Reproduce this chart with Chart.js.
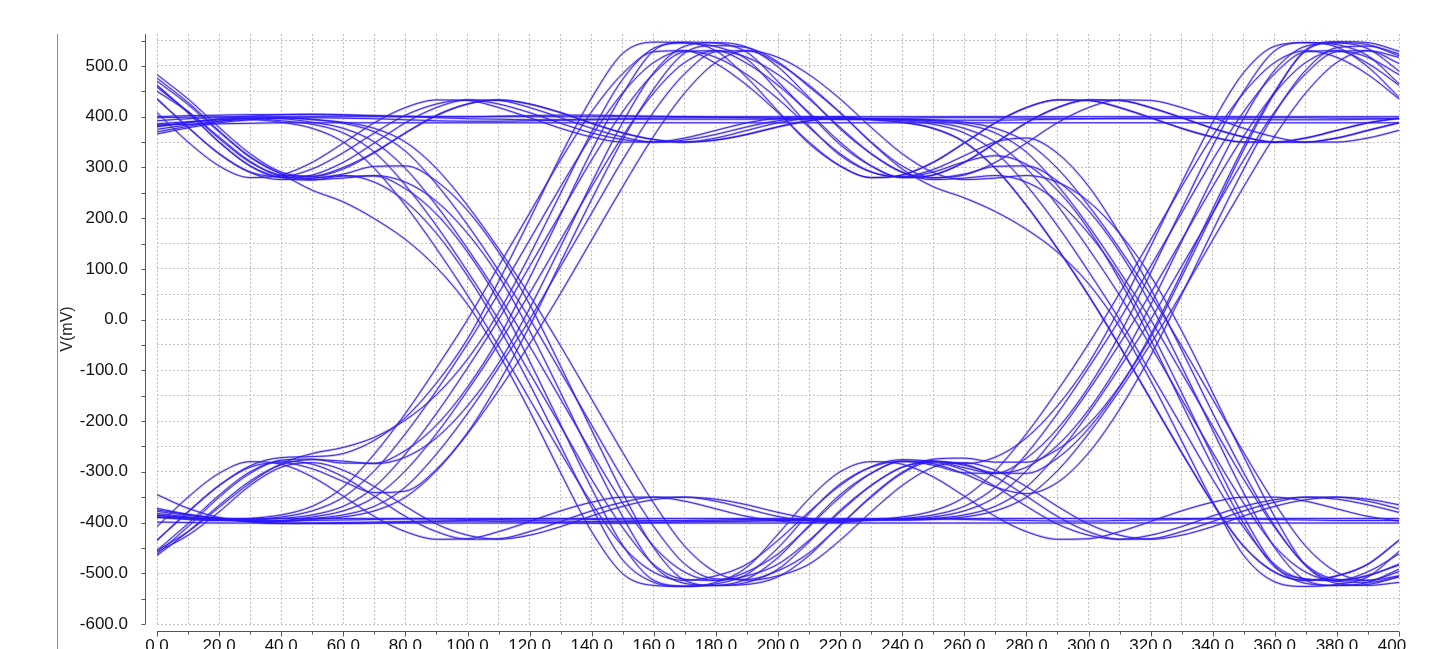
<!DOCTYPE html>
<html><head><meta charset="utf-8">
<script src="https://cdn.jsdelivr.net/npm/chart.js@4.4.1/dist/chart.umd.min.js"></script>
<style>html,body{margin:0;padding:0;background:#fff;overflow:hidden}canvas{display:block}</style>
</head><body>
<canvas id="c" width="1435" height="649"></canvas>
<script>
const timePs = [0,10,20,30,40,50,60,70,80,90,100,110,120,130,140,150,160,170,180,190,200,210,220,230,240,250,260,270,280,290,300,310,320,330,340,350,360,370,380,390,400];
const xTickLabels = ['0.0','20.0','40.0','60.0','80.0','100.0','120.0','140.0','160.0','180.0','200.0','220.0','240.0','260.0','280.0','300.0','320.0','340.0','360.0','380.0','400.0'];
const yTickLabels = ['-600.0','-500.0','-400.0','-300.0','-200.0','-100.0','0.0','100.0','200.0','300.0','400.0','500.0'];
const yAxisTitle = 'V(mV)';

// traces starting high
const traceU1 = [462,408,350,303,280,275,283,283,258,208,133,37,-82,-207,-333,-445,-514,-525,-524,-511,-469,-406,-345,-303,-279,-279,-292,-303,-291,-248,-178,-85,29,154,280,397,492,539,545,534,490];
const traceU2 = [476,428,372,321,287,255,232,199,158,103,30,-67,-180,-302,-418,-501,-524,-526,-518,-488,-423,-353,-300,-280,-285,-310,-348,-388,-418,-433,-432,-418,-398,-377,-360,-350,-350,-358,-373,-388,-397];
const traceU3 = [483,435,379,327,291,282,297,329,368,403,425,433,425,408,387,368,355,350,354,365,380,392,398,395,395,392,385,368,330,265,185,95,0,-105,-210,-315,-410,-483,-512,-514,-497];
const traceU4 = [435,379,327,291,282,297,329,368,403,425,433,425,408,387,368,355,350,354,365,380,392,398,396,397,397,398,398,398,397,397,396,396,396,397,397,398,398,398,397,397,396];
const traceU5 = [370,381,391,397,398,395,387,370,332,267,187,97,2,-103,-208,-313,-408,-482,-511,-512,-495,-460,-406,-348,-301,-275,-273,-281,-281,-256,-206,-131,-35,84,209,335,447,532,548,546,529];
const traceU6 = [386,390,394,397,396,389,377,350,298,225,140,48,-52,-157,-262,-362,-447,-498,-514,-505,-482,-435,-379,-327,-291,-282,-297,-329,-368,-403,-425,-433,-425,-408,-387,-368,-355,-350,-354,-365,-380];
const traceU7 = [380,388,396,401,404,405,404,402,400,398,396,395,394,394,395,396,397,398,398,398,397,396,395,395,392,385,368,330,265,185,95,0,-105,-210,-315,-410,-483,-512,-514,-497,-462];
const traceU8 = [398,399,400,400,400,400,400,400,400,400,400,400,400,400,400,400,400,400,400,400,400,400,400,400,400,400,400,400,400,400,400,400,400,400,400,400,400,400,400,400,400];
const traceU9 = [435,379,327,290,276,279,284,271,233,170,86,-14,-127,-249,-370,-474,-518,-526,-521,-502,-450,-382,-324,-291,-279,-287,-302,-303,-273,-215,-133,-30,92,218,342,450,530,546,542,520,465];
const traceU10 = [462,408,350,303,280,285,310,348,388,418,433,432,418,398,377,360,350,350,358,373,388,397,400,394,389,377,350,298,225,140,48,-52,-157,-262,-362,-447,-498,-514,-505,-482,-435];
const traceU11 = [375,384,391,394,389,377,350,298,225,140,48,-52,-157,-262,-362,-447,-498,-514,-505,-482,-435,-379,-327,-290,-276,-279,-284,-271,-233,-170,-86,22,144,270,389,487,539,546,537,498,438];
const traceU12 = [400,402,403,404,404,404,403,402,401,400,400,401,402,403,403,402,401,400,399,398,397,396,396,395,395,394,389,377,350,298,225,140,48,-52,-157,-262,-362,-447,-498,-514,-505];
const traceU13 = [470,424,370,320,288,279,287,302,303,273,215,133,30,-92,-218,-342,-450,-514,-524,-522,-507,-465,-405,-350,-303,-280,-285,-310,-348,-388,-418,-433,-432,-418,-398,-377,-360,-350,-350,-358,-373];
const traceU14 = [408,350,303,280,285,310,348,388,418,433,432,418,398,377,360,350,350,358,373,388,397,400,395,395,394,389,377,350,298,225,140,48,-52,-157,-262,-362,-447,-498,-514,-505,-482];
const traceU15 = [450,410,360,312,284,283,300,330,368,402,425,433,425,408,387,368,355,350,354,365,380,392,398,396,394,393,393,393,394,395,396,397,397,397,396,395,394,394,394,395,396];
const traceU16 = [384,385,386,387,388,388,388,388,388,388,388,388,388,388,388,388,388,388,388,388,388,388,388,388,388,388,388,388,388,388,388,388,388,388,388,388,388,388,388,388,388];
const traceU17 = [392,396,398,397,392,385,368,330,265,185,95,0,-105,-210,-315,-410,-483,-512,-514,-497,-462,-408,-350,-303,-280,-284,-304,-330,-343,-321,-263,-177,-71,49,175,297,407,492,536,539,524];
const traceU18 = [458,410,357,310,284,276,279,284,271,233,170,86,-22,-144,-270,-389,-485,-520,-524,-518,-492,-438,-376,-327,-291,-279,-287,-302,-303,-273,-215,-133,-30,92,218,342,450,530,546,542,520];
const traceU19 = [382,389,394,397,398,394,389,377,350,298,225,140,48,-52,-157,-262,-362,-447,-498,-514,-505,-482,-435,-379,-327,-291,-282,-297,-329,-368,-403,-425,-433,-425,-408,-387,-368,-355,-350,-354,-365];
const traceU20 = [366,378,388,394,397,398,397,396,394,392,391,391,392,393,394,395,395,395,395,395,395,395,395,394,389,377,350,298,225,140,48,-52,-157,-262,-362,-447,-498,-514,-505,-482,-435];

// traces starting low
const traceL1 = [-465,-418,-366,-318,-286,-276,-279,-284,-271,-233,-170,-86,22,144,270,389,487,539,546,537,498,438,376,327,291,279,287,302,303,273,215,133,30,-92,-218,-342,-450,-514,-524,-522,-507];
const traceL2 = [-462,-408,-350,-303,-277,-275,-283,-283,-258,-208,-133,-37,82,207,333,445,530,547,545,527,469,406,345,303,280,285,310,348,388,418,433,432,418,398,377,360,350,350,358,373,388];
const traceL3 = [-455,-402,-346,-300,-279,-285,-310,-348,-388,-418,-433,-432,-418,-398,-377,-360,-350,-350,-358,-373,-388,-397,-400,-395,-394,-389,-377,-350,-298,-225,-140,-48,52,157,262,362,447,507,530,517,483];
const traceL4 = [-408,-350,-303,-280,-285,-310,-348,-388,-418,-433,-432,-418,-398,-377,-360,-350,-350,-358,-373,-388,-397,-400,-395,-394,-393,-393,-394,-395,-396,-397,-397,-396,-395,-394,-393,-393,-394,-395,-396,-396,-396];
const traceL5 = [-382,-389,-394,-397,-398,-394,-389,-377,-350,-298,-225,-140,-48,52,157,262,362,447,507,530,517,483,435,379,327,290,276,279,284,271,233,170,86,-22,-144,-270,-389,-485,-520,-524,-518];
const traceL6 = [-388,-393,-396,-395,-392,-385,-368,-330,-265,-185,-95,0,105,210,315,410,485,528,530,505,462,408,350,303,280,285,310,348,388,418,433,432,418,398,377,360,350,350,358,373,388];
const traceL7 = [-372,-384,-393,-398,-401,-402,-402,-401,-400,-398,-396,-394,-393,-393,-394,-395,-396,-397,-397,-397,-396,-395,-395,-395,-395,-392,-385,-368,-330,-265,-185,-95,0,105,210,315,410,485,528,530,505];
const traceL8 = [-390,-391,-392,-392,-392,-392,-392,-392,-392,-392,-392,-392,-392,-392,-392,-392,-392,-392,-392,-392,-392,-392,-392,-392,-392,-392,-392,-392,-392,-392,-392,-392,-392,-392,-392,-392,-392,-392,-392,-392,-392];
const traceL9 = [-435,-379,-327,-291,-282,-294,-319,-341,-338,-295,-223,-125,-13,113,237,355,455,526,540,536,508,459,408,349,297,262,240,213,178,133,71,-14,-120,-239,-359,-465,-517,-526,-522,-507,-457];
const traceL10 = [-458,-425,-379,-327,-291,-282,-297,-329,-368,-403,-425,-433,-425,-408,-387,-368,-355,-350,-354,-365,-380,-392,-398,-395,-392,-385,-368,-330,-265,-185,-95,0,105,210,315,410,485,528,530,505,462];
const traceL11 = [-386,-390,-394,-397,-396,-389,-377,-350,-298,-225,-140,-48,52,157,262,362,447,507,530,517,483,435,379,327,290,276,279,284,271,233,170,86,-22,-144,-270,-389,-485,-520,-524,-518,-492];
const traceL12 = [-385,-391,-395,-397,-397,-396,-395,-394,-393,-393,-394,-395,-396,-397,-398,-398,-397,-396,-395,-394,-394,-394,-395,-394,-389,-377,-350,-298,-225,-140,-48,52,157,262,362,447,507,530,517,483,435];
const traceL13 = [-435,-379,-327,-288,-272,-270,-264,-238,-193,-125,-38,75,197,323,437,525,547,546,530,477,411,347,303,280,285,310,348,388,418,433,432,418,398,377,360,350,350,358,373,388,397];
const traceL14 = [-378,-386,-392,-396,-397,-392,-385,-368,-330,-265,-185,-95,0,105,210,315,410,485,528,530,505,462,408,350,303,280,285,310,348,388,418,433,432,418,398,377,360,350,350,358,373];
const traceL15 = [-399,-400,-401,-401,-401,-401,-401,-401,-401,-401,-401,-401,-401,-401,-401,-401,-401,-401,-401,-401,-401,-401,-401,-401,-401,-401,-401,-401,-401,-401,-401,-401,-401,-401,-401,-401,-401,-401,-401,-401,-401];
const traceL16 = [-375,-384,-391,-394,-389,-377,-350,-298,-225,-140,-48,52,157,262,362,447,507,530,517,483,435,379,327,291,282,296,323,350,358,328,263,170,61,-60,-184,-302,-407,-485,-516,-518,-507];
const traceL17 = [-390,-394,-396,-392,-385,-368,-330,-265,-185,-95,0,105,210,315,410,485,528,530,505,462,408,350,303,280,285,310,348,388,418,433,432,418,398,377,360,350,350,358,373,388,397];
const traceL18 = [-455,-418,-370,-322,-284,-264,-252,-232,-198,-148,-78,14,127,249,370,474,535,545,538,513,450,382,324,291,281,291,311,323,306,255,178,78,-39,-165,-289,-402,-488,-511,-514,-504,-484];
const traceL19 = [-345,-372,-390,-399,-402,-401,-400,-399,-398,-397,-397,-398,-399,-400,-401,-401,-400,-399,-398,-397,-396,-396,-395,-395,-395,-394,-389,-377,-350,-298,-225,-140,-48,52,157,262,362,447,507,530,517];

const traces = [traceU1,traceU2,traceU3,traceU4,traceU5,traceU6,traceU7,traceU8,traceU9,traceU10,traceU11,traceU12,traceU13,traceU14,traceU15,traceU16,traceU17,traceU18,traceU19,traceU20,
  traceL1,traceL2,traceL3,traceL4,traceL5,traceL6,traceL7,traceL8,traceL9,traceL10,traceL11,traceL12,traceL13,traceL14,traceL15,traceL16,traceL17,traceL18,traceL19];

const toPoints = tr => timePs.map((t, i) => ({x: t, y: tr[i]}));
const coreSets = traces.map(tr => ({data: toPoints(tr), borderColor: 'rgb(40,20,250)', borderWidth: 0.9, order: 0}));
const haloSets = traces.map(tr => ({data: toPoints(tr), borderColor: 'rgba(140,130,205,0.55)', borderWidth: 2.3, order: 1}));

const FONT = '"Liberation Sans", Arial, Helvetica, sans-serif';

const axesPlugin = {
  id: 'axesDecor',
  afterDraw(chart) {
    const {ctx, chartArea: a, scales: {x, y}} = chart;
    ctx.save();
    ctx.strokeStyle = '#8c8c8c'; ctx.lineWidth = 1;
    ctx.beginPath(); ctx.moveTo(57.5, a.top); ctx.lineTo(57.5, chart.height); ctx.stroke();
    ctx.strokeStyle = '#555';
    const ax = Math.round(a.left - 12) + 0.5;
    ctx.beginPath();
    ctx.moveTo(ax, a.top); ctx.lineTo(ax, a.bottom);
    y.ticks.forEach(t => {
      const py = Math.round(y.getPixelForValue(t.value)) + 0.5;
      ctx.moveTo(ax - 4, py); ctx.lineTo(ax, py);
    });
    ctx.stroke();
    const ay = Math.round(a.bottom + 7) + 0.5;
    ctx.beginPath();
    ctx.moveTo(a.left, ay); ctx.lineTo(a.right, ay);
    x.ticks.forEach(t => {
      const px = Math.round(x.getPixelForValue(t.value)) + 0.5;
      const len = (Math.round(t.value) % 20 === 0) ? 5 : 3;
      ctx.moveTo(px, ay); ctx.lineTo(px, ay + len);
    });
    ctx.stroke();
    ctx.fillStyle = '#fff';
    ctx.fillRect(1408, ay + 6, chart.width - 1408, chart.height - ay);
    ctx.restore();
  }
};

new Chart(document.getElementById('c'), {
  type: 'line',
  data: {datasets: [...coreSets, ...haloSets]},
  options: {
    responsive: false,
    animation: false,
    devicePixelRatio: 1,
    layout: {padding: {left: 50, top: 34, right: 36, bottom: 0}},
    plugins: {legend: {display: false}, tooltip: {enabled: false}},
    elements: {point: {radius: 0}, line: {cubicInterpolationMode: 'monotone', borderCapStyle: 'round', borderJoinStyle: 'round'}},
    scales: {
      x: {
        type: 'linear', min: 0, max: 400,
        afterFit(s) { s.height = 25; },
        border: {display: false, dash: [2, 2]},
        grid: {color: '#c2c2c2', lineWidth: 1, drawTicks: true, tickLength: 12, tickColor: 'rgba(0,0,0,0)'},
        ticks: {
          stepSize: 10, autoSkip: false, maxRotation: 0, includeBounds: false, padding: 0,
          color: '#111', font: {family: FONT, size: 17},
          callback: v => { const k = Math.round(v); return (k % 20 === 0) ? xTickLabels[k / 20] : ''; }
        }
      },
      y: {
        type: 'linear', min: -600, max: 563,
        afterFit(s) { s.width = 107; },
        border: {display: false, dash: [2, 2]},
        grid: {color: '#c2c2c2', lineWidth: 1, drawTicks: true, tickLength: 26, tickColor: 'rgba(0,0,0,0)'},
        ticks: {
          stepSize: 50, autoSkip: false, includeBounds: false, padding: 3,
          color: '#111', font: {family: FONT, size: 17},
          callback: v => { const k = Math.round(v); return (((k % 100) + 100) % 100 === 0) ? yTickLabels[(k + 600) / 100] : ''; }
        },
        title: {display: true, text: yAxisTitle, color: '#222', font: {family: FONT, size: 16}, padding: {top: 8, bottom: 0}}
      }
    }
  },
  plugins: [axesPlugin]
});
</script>
</body></html>
